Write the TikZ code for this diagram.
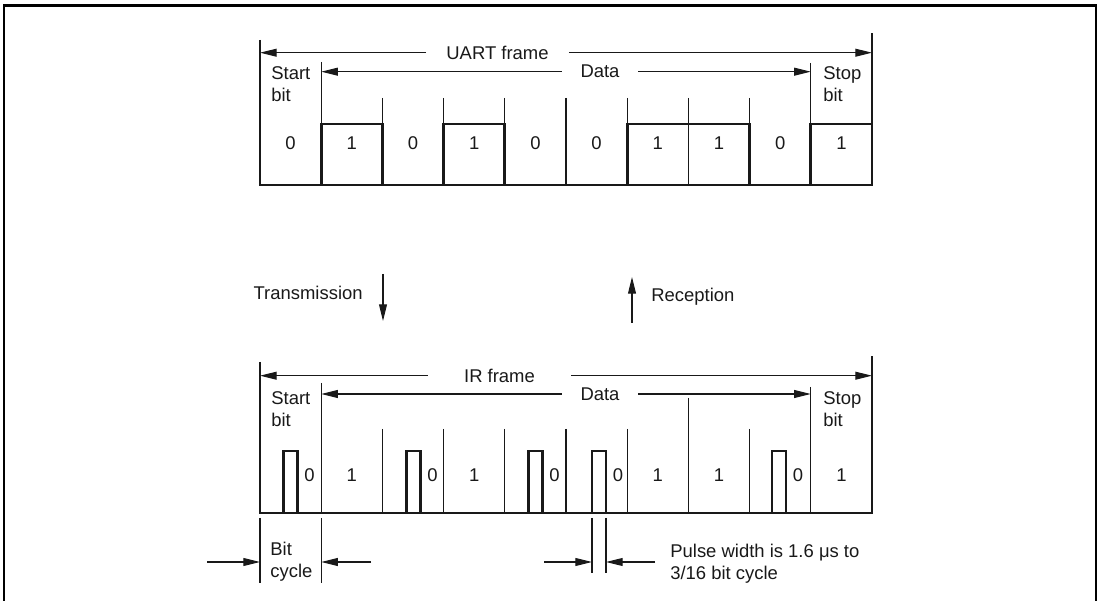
\documentclass[tikz,border=0pt]{standalone}
\usepackage{fontspec}
\setmainfont{Liberation Sans}
\usepackage{tikz}
\usetikzlibrary{arrows.meta, positioning}
\definecolor{mydark}{RGB}{25,25,25}
\tikzset{
  lbl/.style={font=\fontsize{10.5}{12.6}\selectfont, color=mydark, inner sep=0pt},
  twoline/.style={lbl, align=left, anchor=west},
  thinline/.style={line width=0.6pt, color=mydark},
  signal/.style={line width=1.7pt, color=mydark, line join=miter},
  border/.style={line width=1.2pt, color=black},
  arrow/.style={-{Triangle[length=9.5pt,width=4.5pt]}, line width=0.6pt, color=mydark}
}

\begin{document}
\begin{tikzpicture}[x=0.02cm, y=-0.02cm]
  \useasboundingbox (0,0) rectangle (1100,601);
  \draw[border] (4,601) -- (4,5.5) -- (1096,5.5) -- (1096,601);

  \draw[thinline] (260,40) -- (260,185) -- (872,185) -- (872,33);
  \draw[thinline] (321.2,62) -- (321.2,185) (810.8,63) -- (810.8,185);
  \foreach \i in {2,...,8} \draw[thinline] (260+61.2*\i,98) -- (260+61.2*\i,185);
  \draw[signal] (260,185) -| (321.2,124) -| (382.4,185) -| (443.6,124) -| (504.8,185)
    -| (627.2,124) -| (749.6,185) -| (810.8,124) -- (872,124);
  \foreach \b [count=\i from 0] in {0,1,0,1,0,0,1,1,0,1}
    \node[lbl] (u\i) at (290.6+61.2*\i,143) {\b};

  \node[lbl, inner xsep=0.4cm] (uartlbl) at (497.5,52.7) {UART frame};
  \coordinate (uartL) at (260,52.7);
  \coordinate (uartR) at (872,52.7);
  \draw[arrow] (uartlbl) -- (uartL);
  \draw[arrow] (uartlbl) -- (uartR);
  \node[lbl, inner xsep=0.37cm] (udata) at (600,71.7) {Data};
  \coordinate (udataL) at (321.2,71.7);
  \coordinate (udataR) at (810.8,71.7);
  \draw[arrow] (udata) -- (udataL);
  \draw[arrow] (udata) -- (udataR);
  \node[twoline] (ustart) at (271,84) {Start\\bit};
  \node[twoline] (ustop) at (823,84) {Stop\\bit};

  \node[lbl, anchor=east] (txlbl) at (363,293) {Transmission};
  \coordinate (txa) at (383,274);
  \coordinate (txb) at (383,321);
  \draw[arrow] (txa) -- (txb);
  \node[lbl, anchor=west] (rxlbl) at (651,297) {Reception};
  \coordinate (rxa) at (632,323);
  \coordinate (rxb) at (632,277);
  \draw[arrow] (rxa) -- (rxb);

  \draw[thinline] (260,362) -- (260,513) -- (872,513) -- (872,356);
  \draw[thinline] (321.2,383) -- (321.2,513) (810.8,387) -- (810.8,513);
  \foreach \i in {2,...,8} \draw[thinline] (260+61.2*\i,429) -- (260+61.2*\i,513);
  \draw[thinline] (688.4,398) -- (688.4,429);
  \draw[signal] (260,513)
    \foreach \c in {290.5,413.5,535.5,599,779} {-- (\c-7,513) -- (\c-7,451) -- (\c+7,451) -- (\c+7,513)}
    -- (872,513);
  \foreach \c [count=\i] in {290.5,413.5,535.5,599,779}
    \node[lbl] (z\i) at (\c+19,475) {0};
  \foreach \c [count=\i] in {351.8,474.2,657.8,719,841.4}
    \node[lbl] (o\i) at (\c,475) {1};

  \node[lbl, inner xsep=0.72cm] (irlbl) at (499.5,375.7) {IR frame};
  \coordinate (irL) at (260,375.7);
  \coordinate (irR) at (872,375.7);
  \draw[arrow] (irlbl) -- (irL);
  \draw[arrow] (irlbl) -- (irR);
  \node[lbl, inner xsep=0.37cm] (irdata) at (600,394) {Data};
  \coordinate (irdataL) at (321.2,394);
  \coordinate (irdataR) at (810.8,394);
  \draw[arrow] (irdata) -- (irdataL);
  \draw[arrow] (irdata) -- (irdataR);
  \node[twoline] (irstart) at (271,409.5) {Start\\bit};
  \node[twoline] (irstop) at (823,409.5) {Stop\\bit};

  \draw[thinline] (260,518) -- (260,583) (321.2,518) -- (321.2,583);
  \coordinate (bcL) at (260,562);
  \coordinate (bcR) at (321.2,562);
  \coordinate (bcLa) at (207,562);
  \coordinate (bcRa) at (371,562);
  \draw[arrow] (bcLa) -- (bcL);
  \draw[arrow] (bcRa) -- (bcR);
  \node[twoline] (bclbl) at (270,562) {Bit\\cycle};

  \draw[thinline] (592,518) -- (592,573) (606,518) -- (606,573);
  \coordinate (pwL) at (592,562);
  \coordinate (pwR) at (606,562);
  \coordinate (pwLa) at (544,562);
  \coordinate (pwRa) at (655,562);
  \draw[arrow] (pwLa) -- (pwL);
  \draw[arrow] (pwRa) -- (pwR);
  \node[twoline] (pwlbl) at (670,563.5) {Pulse width is 1.6 μs to\\3/16 bit cycle};
\end{tikzpicture}
\end{document}
